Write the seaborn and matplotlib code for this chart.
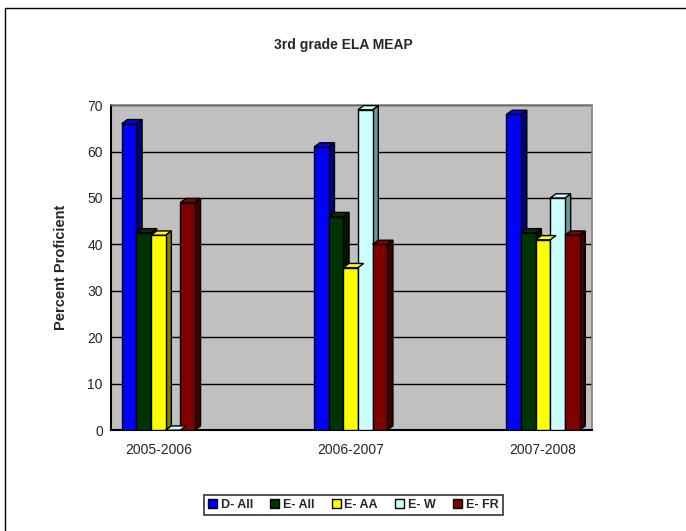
import numpy as np
import pandas as pd
import matplotlib.pyplot as plt
import matplotlib.colors as mcolors
from matplotlib.patches import Polygon, Rectangle
import seaborn as sns

years = ["2005-2006", "2006-2007", "2007-2008"]
groups = ["D- All", "E- All", "E- AA", "E- W", "E- FR"]
d_all = [66, 61, 68]
e_all = [42.5, 46, 42.5]
e_aa = [42, 35, 41]
e_w = [0, 69, 50]
e_fr = [49, 40, 42]
colors = ["#0000FF", "#003300", "#FFFF00", "#CCFFFF", "#800000"]
side_colors = ["#000080", "#001500", "#808000", "#669999", "#400000"]

rows = []
for g, vals in zip(groups, [d_all, e_all, e_aa, e_w, e_fr]):
    for y, v in zip(years, vals):
        rows.append({"year": y, "group": g, "value": v})
df = pd.DataFrame(rows)

sns.set_style("white")
plt.rcParams['font.family'] = ['Liberation Sans', 'DejaVu Sans']

fig = plt.figure(figsize=(6.86, 5.31), dpi=100)
ax = fig.add_axes([0.162, 0.19, 0.701, 0.612])
ax.set_facecolor("#C0C0C0")

sns.barplot(data=df, x="year", y="value", hue="group", order=years,
            hue_order=groups, palette=colors, width=0.38, ax=ax,
            edgecolor="black", linewidth=1, saturation=1, legend=False,
            zorder=3)

# fake 3D depth on each bar
dx, dy = 0.03, 0.9
bars = [p for p in ax.patches if isinstance(p, Rectangle)]
for i, p in enumerate(bars):
    k = i // len(years)
    x0, w, h = p.get_x(), p.get_width(), p.get_height()
    side = Polygon([(x0 + w, 0), (x0 + w + dx, dy), (x0 + w + dx, h + dy), (x0 + w, h)],
                   closed=True, facecolor=side_colors[k], edgecolor="black", lw=1, zorder=2.9)
    top = Polygon([(x0, h), (x0 + dx, h + dy), (x0 + w + dx, h + dy), (x0 + w, h)],
                  closed=True, facecolor=colors[k], edgecolor="black", lw=1, zorder=3.1)
    ax.add_patch(side)
    ax.add_patch(top)

ax.set_ylim(0, 70)
ax.set_yticks(range(0, 71, 10))
ax.set_xlim(-0.245, 2.255)
ax.set_xticks([-0.245, 0.245, 0.75, 1.245, 1.745, 2.255])
ax.set_xticklabels([])
ax.set_xticks([0, 1, 2], minor=True)
ax.set_xticklabels(years, minor=True)
ax.tick_params(axis="x", which="minor", length=0, pad=9, labelsize=10)
ax.tick_params(axis="x", which="major", length=5, width=1, color="black", direction="out")
ax.tick_params(axis="y", length=4, width=1, color="black", direction="out", labelsize=10, pad=2)
ax.yaxis.grid(True, color="black", lw=1)
ax.set_axisbelow(True)
ax.set_xlabel("")
ax.set_ylabel("Percent Proficient", fontsize=10.5, fontweight="bold", labelpad=14)
for s in ["left", "bottom"]:
    ax.spines[s].set_color("black")
    ax.spines[s].set_linewidth(1.5)
for s in ["top", "right"]:
    ax.spines[s].set_color("#808080")
    ax.spines[s].set_linewidth(1.2)

fig.text(0.5, 0.915, "3rd grade ELA MEAP", ha="center", va="center",
         fontsize=10, fontweight="bold")

handles = [Rectangle((0, 0), 1, 1, facecolor=c, edgecolor="black", lw=1) for c in colors]
leg = fig.legend(handles, groups, loc="center", bbox_to_anchor=(0.515, 0.049),
                 ncol=5, frameon=True, fancybox=False, handlelength=0.7,
                 handleheight=0.7, handletextpad=0.3, columnspacing=1.4,
                 prop={"weight": "bold", "size": 9}, borderpad=0.35)
leg.get_frame().set_edgecolor("black")
leg.get_frame().set_linewidth(1.2)

# outer chart border
fig.patches.append(Rectangle((5 / 686, -0.05), 1.0, 1 - 8 / 531 + 0.05,
                             transform=fig.transFigure, fill=False,
                             edgecolor="black", lw=1))

fig.savefig("out.png", dpi=100)
